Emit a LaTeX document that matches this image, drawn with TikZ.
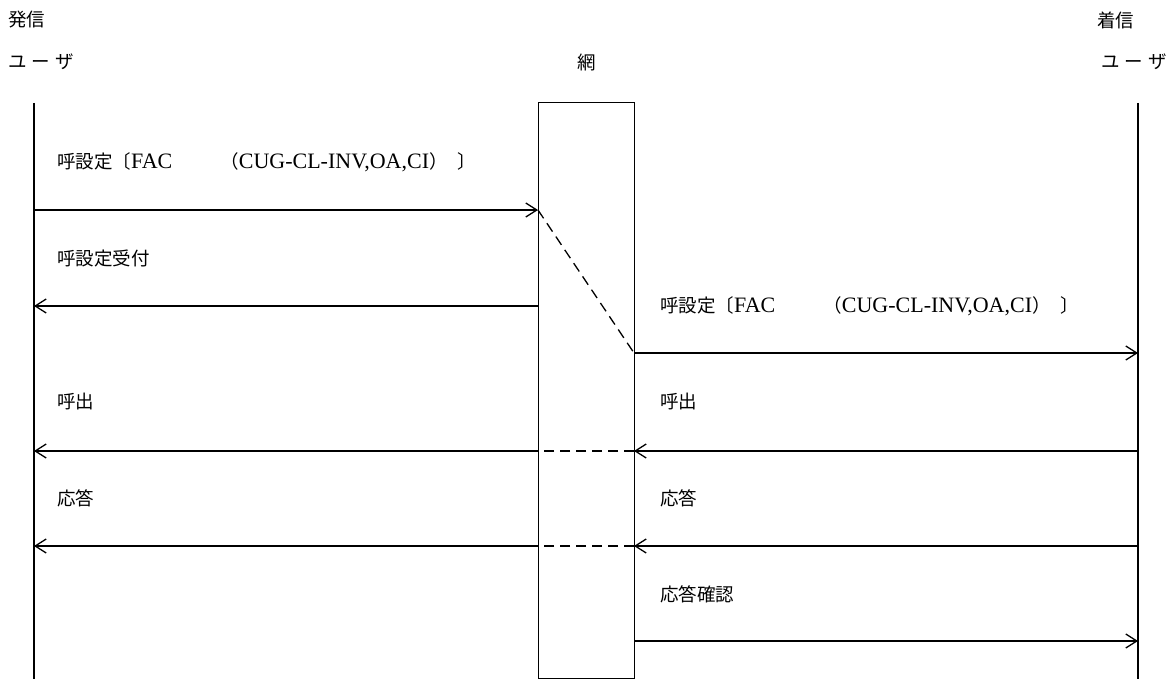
\documentclass[tikz,border=0pt]{standalone}
\usepackage{fontspec}
\setmainfont{Liberation Serif}
\newfontfamily\cjk{Noto Sans CJK JP}
\usetikzlibrary{arrows.meta}
\newcommand\latn[1]{{\rmfamily\fontsize{22}{22}\selectfont #1}}
\begin{document}
\begin{tikzpicture}[x=1pt,y=-1pt,
  ln/.style={line width=1.3pt},
  msg/.style={line width=1.3pt,-{Straight Barb[length=11pt,width=14pt,line width=1.3pt]}},
  dsh/.style={line width=1.3pt,dash pattern=on 10pt off 6pt},
  lbl/.style={anchor=west,inner sep=0pt,font=\cjk\fontsize{18.5}{18.5}\selectfont},
  hdr/.style={inner sep=0pt,font=\cjk\fontsize{18.5}{18.5}\selectfont}]
\useasboundingbox (0,0) rectangle (1176,679);
% headers
\node[hdr,anchor=west] (h1) at (8,20) {発信};
\node[hdr,anchor=west] (h2) at (8,62) {ユ\hspace{5pt}ー\hspace{5pt}ザ};
\node[hdr] (h3) at (587,62) {網};
\node[hdr,anchor=west] (h4) at (1097,20) {着信};
\node[hdr,anchor=east] (h5) at (1167,62) {ユ\hspace{5pt}ー\hspace{5pt}ザ};
% network box
\node[draw,line width=1.3pt,minimum width=96pt,minimum height=576pt,inner sep=0pt,anchor=north west] (net) at (538,102) {};
% lifelines
\coordinate (lt) at (34,103); \coordinate (lb) at (34,679);
\coordinate (rt) at (1138,103); \coordinate (rb) at (1138,679);
\draw[ln] (lt) -- (lb);
\draw[ln] (rt) -- (rb);
% message end points
\coordinate (a1) at (34,210);  \coordinate (b1) at (538,210);
\coordinate (a2) at (34,306);  \coordinate (b2) at (538,306);
\coordinate (c3) at (634,353); \coordinate (d3) at (1138,353);
\coordinate (a4) at (34,451);  \coordinate (b4) at (538,451);
\coordinate (c4) at (634,451); \coordinate (d4) at (1138,451);
\coordinate (a5) at (34,546);  \coordinate (b5) at (538,546);
\coordinate (c5) at (634,546); \coordinate (d5) at (1138,546);
\coordinate (c6) at (634,641); \coordinate (d6) at (1138,641);
% messages
\draw[msg] (a1) -- (b1);
\draw[dsh] (b1) -- (c3);
\draw[msg] (b2) -- (a2);
\draw[msg] (c3) -- (d3);
\draw[msg] (d4) -- (c4);
\draw[dsh] (c4) -- (b4);
\draw[msg] (b4) -- (a4);
\draw[msg] (d5) -- (c5);
\draw[dsh] (c5) -- (b5);
\draw[msg] (b5) -- (a5);
\draw[msg] (c6) -- (d6);
% labels
\node[lbl] (t1) at (57,162) {呼設定〔\latn{FAC}\hspace{48pt}（\latn{CUG-CL-INV,OA,CI}）\hspace{10pt}〕};
\node[lbl] (t2) at (57,258) {呼設定受付};
\node[lbl] (t3) at (660,306) {呼設定〔\latn{FAC}\hspace{48pt}（\latn{CUG-CL-INV,OA,CI}）\hspace{10pt}〕};
\node[lbl] (t4) at (57,402) {呼出};
\node[lbl] (t5) at (660,402) {呼出};
\node[lbl] (t6) at (57,498) {応答};
\node[lbl] (t7) at (660,498) {応答};
\node[lbl] (t8) at (660,594) {応答確認};
\end{tikzpicture}
\end{document}
